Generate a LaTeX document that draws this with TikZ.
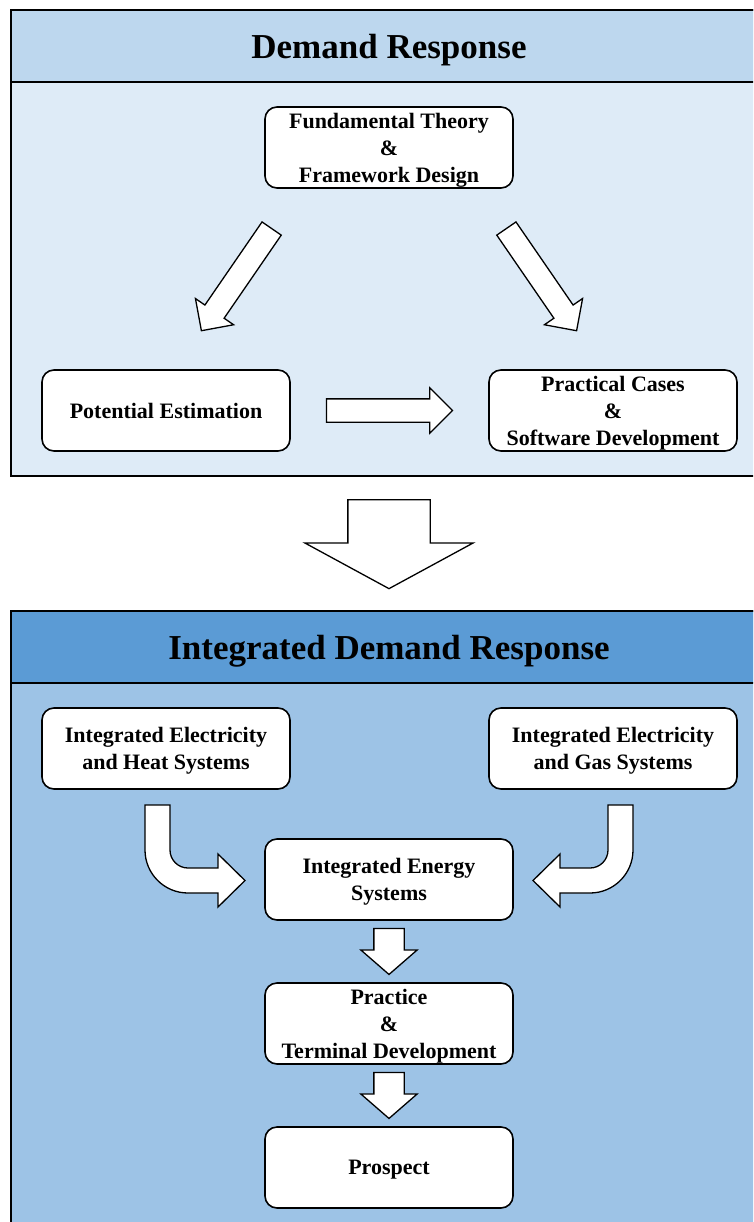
\documentclass[tikz,border=0pt]{standalone}
\usepackage{fontspec}
\setmainfont{Liberation Serif}
\usepackage{tikz}
\usetikzlibrary{shapes.arrows, calc}

\definecolor{drhead}{HTML}{BDD7EE}
\definecolor{drbody}{HTML}{DEEBF7}
\definecolor{idrhead}{HTML}{5B9BD5}
\definecolor{idrbody}{HTML}{9DC3E6}

\begin{document}
\begin{tikzpicture}[x=1pt, y=-1pt]
      \tikzset{box/.style={draw,
          line width=1.6pt,
          rounded corners=12pt,
          fill=white,
          minimum width=248pt,
          minimum height=81pt,
          align=center,
          text depth=-3pt,
          font=\bfseries\fontsize{22}{27}\selectfont},
        title/.style={font=\bfseries\fontsize{35}{40}\selectfont},
        frame/.style={draw, line width=2pt, fill=#1},
        fatarrow/.style={single arrow,
          draw,
          fill=white,
          line width=1.3pt,
          inner xsep=0pt,
          minimum width=0pt,
          anchor=tail,
          single arrow head indent=0pt},
        curvearrow/.style={draw, fill=white, line width=1.3pt, line join=miter}
      }
      \useasboundingbox (0,0) rectangle (753,1222);
      \clip (0,0) rectangle (753,1222);
      % demand response
      \draw [frame=drbody] (11,10) rectangle (780,476);
      \draw [frame=drhead] (11,10) rectangle (780,82);
      \node [title] (dr) at (389,50) {Demand Response};
      \node [box] (theory) at (389,147.5) {Fundamental Theory\\\&\\Framework Design};
      \node [box] (potential) at (166,410.5) {Potential Estimation};
      \node [box] (cases) at (613,410.5) {Practical Cases\\\&\\Software Development};
      \node [fatarrow, minimum height=124pt, inner ysep=11pt,
        single arrow head extend=11.5pt, rotate=-124.5] (a1) at (272,228) {};
      \node [fatarrow, minimum height=124pt, inner ysep=11pt,
        single arrow head extend=11.5pt, rotate=-55.5] (a2) at (506,228) {};
      \node [fatarrow, minimum height=126pt, inner ysep=11pt,
        single arrow head extend=11pt] (a3) at ($(potential.east)+(35,0)$) {};
      % integrated demand response
      \node [fatarrow, minimum height=89pt, inner ysep=40.5pt,
        single arrow head extend=43pt, single arrow tip angle=123, rotate=-90] (a4) at (389,499) {};
      \draw [frame=idrbody] (11,611) rectangle (780,1240);
      \draw [frame=idrhead] (11,611) rectangle (780,683);
      \node [title] (idr) at (389,651) {Integrated Demand Response};
      \node [box] (heat) at (166,748.5) {Integrated Electricity\\and Heat Systems};
      \node [box] (gas) at (613,748.5) {Integrated Electricity\\and Gas Systems};
      \node [box] (ies) at (389,879.5) {Integrated Energy\\Systems};
      \node [box] (practice) at (389,1023.5) {Practice\\\&\\Terminal Development};
      \node [box] (prospect) at (389,1167.5) {Prospect};
      \draw [curvearrow] (145,805) -- (145,850) arc[start angle=180, end angle=90, radius=43]
        -- (218,893) -- (218,907) -- (245,880.5) -- (218,854) -- (218,868) -- (188,868)
        arc[start angle=90, end angle=180, radius=18] -- (170,805) -- cycle;
      \draw [curvearrow] (633,805) -- (633,850) arc[start angle=0, end angle=90, radius=43]
        -- (560,893) -- (560,907) -- (533,880.5) -- (560,854) -- (560,868) -- (590,868)
        arc[start angle=90, end angle=0, radius=18] -- (608,805) -- cycle;
      \node [fatarrow, minimum height=46pt, inner ysep=14.5pt,
        single arrow head extend=13pt, single arrow tip angle=98, rotate=-90] (a5)
        at ($(ies.south)+(0,7)$) {};
      \node [fatarrow, minimum height=46pt, inner ysep=14.5pt,
        single arrow head extend=13pt, single arrow tip angle=98, rotate=-90] (a6)
        at ($(practice.south)+(0,7)$) {};
\end{tikzpicture}
\end{document}
